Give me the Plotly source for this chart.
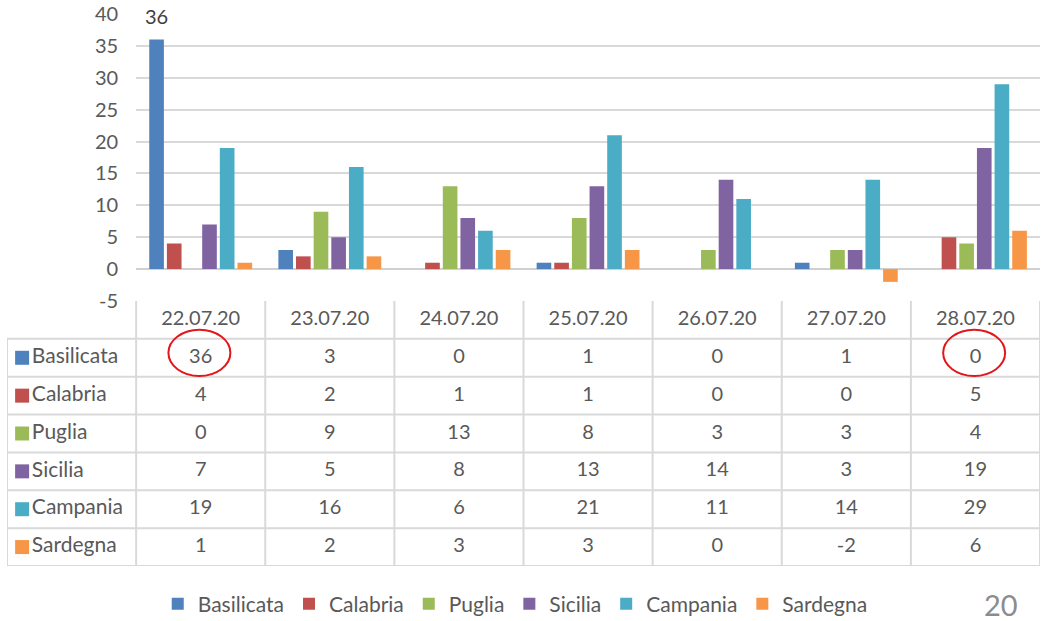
import plotly.graph_objects as go

# data
dates = ['22.07.20', '23.07.20', '24.07.20', '25.07.20', '26.07.20', '27.07.20', '28.07.20']
regions = ['Basilicata', 'Calabria', 'Puglia', 'Sicilia', 'Campania', 'Sardegna']
basilicata = [36, 3, 0, 1, 0, 1, 0]
calabria = [4, 2, 1, 1, 0, 0, 5]
puglia = [0, 9, 13, 8, 3, 3, 4]
sicilia = [7, 5, 8, 13, 14, 3, 19]
campania = [19, 16, 6, 21, 11, 14, 29]
sardegna = [1, 2, 3, 3, 0, -2, 6]
series = [basilicata, calabria, puglia, sicilia, campania, sardegna]
colors = ['#4f81bd', '#c0504d', '#9bbb59', '#8064a2', '#4bacc6', '#f79646']
y_ticks = [-5, 0, 5, 10, 15, 20, 25, 30, 35, 40]
# cells circled in red on the slide
circled = [('Basilicata', '22.07.20'), ('Basilicata', '28.07.20')]
page_number = '20'

FONT = 'Lato'
TXT = '#595959'
GRID = '#d9d9d9'
BARGAP = 0.18
NUM_SIZE = 20
LBL_SIZE = 21

fig = go.Figure()

# bars
for name, vals, col in zip(regions, series, colors):
    fig.add_trace(go.Bar(
        x=dates, y=vals, name=name,
        marker=dict(color=col, line=dict(width=0)),
        xaxis='x', yaxis='y', hoverinfo='x+y+name'
    ))

# data table: header row 0, series rows 1..6, label column 0, dates 1..7
fig.add_trace(go.Scatter(
    x=list(range(1, len(dates) + 1)), y=[0] * len(dates), text=dates,
    mode='text', textfont=dict(family=FONT, size=NUM_SIZE, color=TXT),
    xaxis='x2', yaxis='y2', showlegend=False, hoverinfo='skip'
))
for i, (name, vals, col) in enumerate(zip(regions, series, colors)):
    fig.add_trace(go.Scatter(
        x=list(range(1, len(dates) + 1)), y=[i + 1] * len(dates),
        text=[str(v) for v in vals], mode='text',
        textfont=dict(family=FONT, size=NUM_SIZE, color=TXT),
        xaxis='x2', yaxis='y2', showlegend=False, hoverinfo='skip'
    ))
    fig.add_trace(go.Scatter(
        x=[-0.383], y=[i + 1], text=[name], mode='markers+text',
        textposition='middle right',
        marker=dict(symbol='square', size=14, color=col),
        textfont=dict(family=FONT, size=LBL_SIZE, color=TXT),
        xaxis='x2', yaxis='y2', showlegend=False, hoverinfo='skip'
    ))

# table borders
ncol = len(dates)
nrow = len(regions)
line = dict(color=GRID, width=2)
shapes = []
for c in range(ncol + 1):
    shapes.append(dict(type='line', xref='x2', yref='y2', x0=c + 0.5, x1=c + 0.5,
                       y0=-0.5, y1=nrow + 0.5, line=line, layer='below'))
shapes.append(dict(type='line', xref='x2', yref='y2', x0=-0.5, x1=-0.5,
                   y0=0.5, y1=nrow + 0.5, line=line, layer='below'))
for r in range(nrow + 1):
    shapes.append(dict(type='line', xref='x2', yref='y2', x0=-0.5, x1=ncol + 0.5,
                       y0=r + 0.5, y1=r + 0.5, line=line, layer='below'))

# red circles
for reg, d in circled:
    r = regions.index(reg) + 1
    c = dates.index(d) + 1
    shapes.append(dict(type='circle', xref='x2', yref='y2',
                       x0=c - 0.25, x1=c + 0.23, y0=r - 0.74, y1=r + 0.48,
                       line=dict(color='#e3161b', width=2)))

# data label over the tallest bar
top = max(basilicata)
top_idx = basilicata.index(top)
offset = -(1 - BARGAP) / 2 + (1 - BARGAP) / (2 * len(regions))
annotations = [
    dict(x=top_idx + offset, y=top, xref='x', yref='y', text=str(top),
         showarrow=False, yshift=24, font=dict(family=FONT, size=NUM_SIZE, color='#404040')),
    dict(x=0.962, y=-0.069, xref='paper', yref='paper', text=page_number,
         xanchor='center', yanchor='middle',
         showarrow=False, font=dict(family=FONT, size=29, color='#8c8c8c')),
]

fig.update_layout(
    width=1047, height=621,
    margin=dict(l=7, r=7, t=14, b=55, autoexpand=False),
    plot_bgcolor='white', paper_bgcolor='white',
    font=dict(family=FONT, size=NUM_SIZE, color=TXT),
    barmode='group', bargap=BARGAP, bargroupgap=0.17,
    xaxis=dict(type='category', domain=[1 / 8, 1], anchor='y', automargin=False,
               showticklabels=False, showgrid=False, zeroline=False,
               categoryorder='array', categoryarray=dates),
    yaxis=dict(domain=[265 / 552, 1], anchor='x', range=[-5, 40], automargin=False,
               tickmode='array', tickvals=y_ticks, ticktext=[str(v) for v in y_ticks],
               showgrid=True, gridcolor=GRID, gridwidth=1.5,
               zeroline=True, zerolinecolor='#d0d0d0', zerolinewidth=2,
               ticks='', ticklabelstandoff=17,
               tickfont=dict(family=FONT, size=NUM_SIZE, color=TXT)),
    xaxis2=dict(domain=[0, 1], anchor='y2', range=[-0.5, ncol + 0.5],
                visible=False, automargin=False),
    yaxis2=dict(domain=[0, 265 / 552], anchor='x2', range=[nrow + 0.5, -0.5],
                visible=False, automargin=False),
    legend=dict(orientation='h', x=0.492, xanchor='center', y=-0.069, yanchor='middle',
                font=dict(family=FONT, size=LBL_SIZE, color=TXT), itemwidth=30),
    shapes=shapes, annotations=annotations,
    showlegend=True,
)

# drop the default page margin so the figure fills the window
fig.write_html('out.html', config={'displayModeBar': False},
               post_script="document.body.style.margin='0';")
